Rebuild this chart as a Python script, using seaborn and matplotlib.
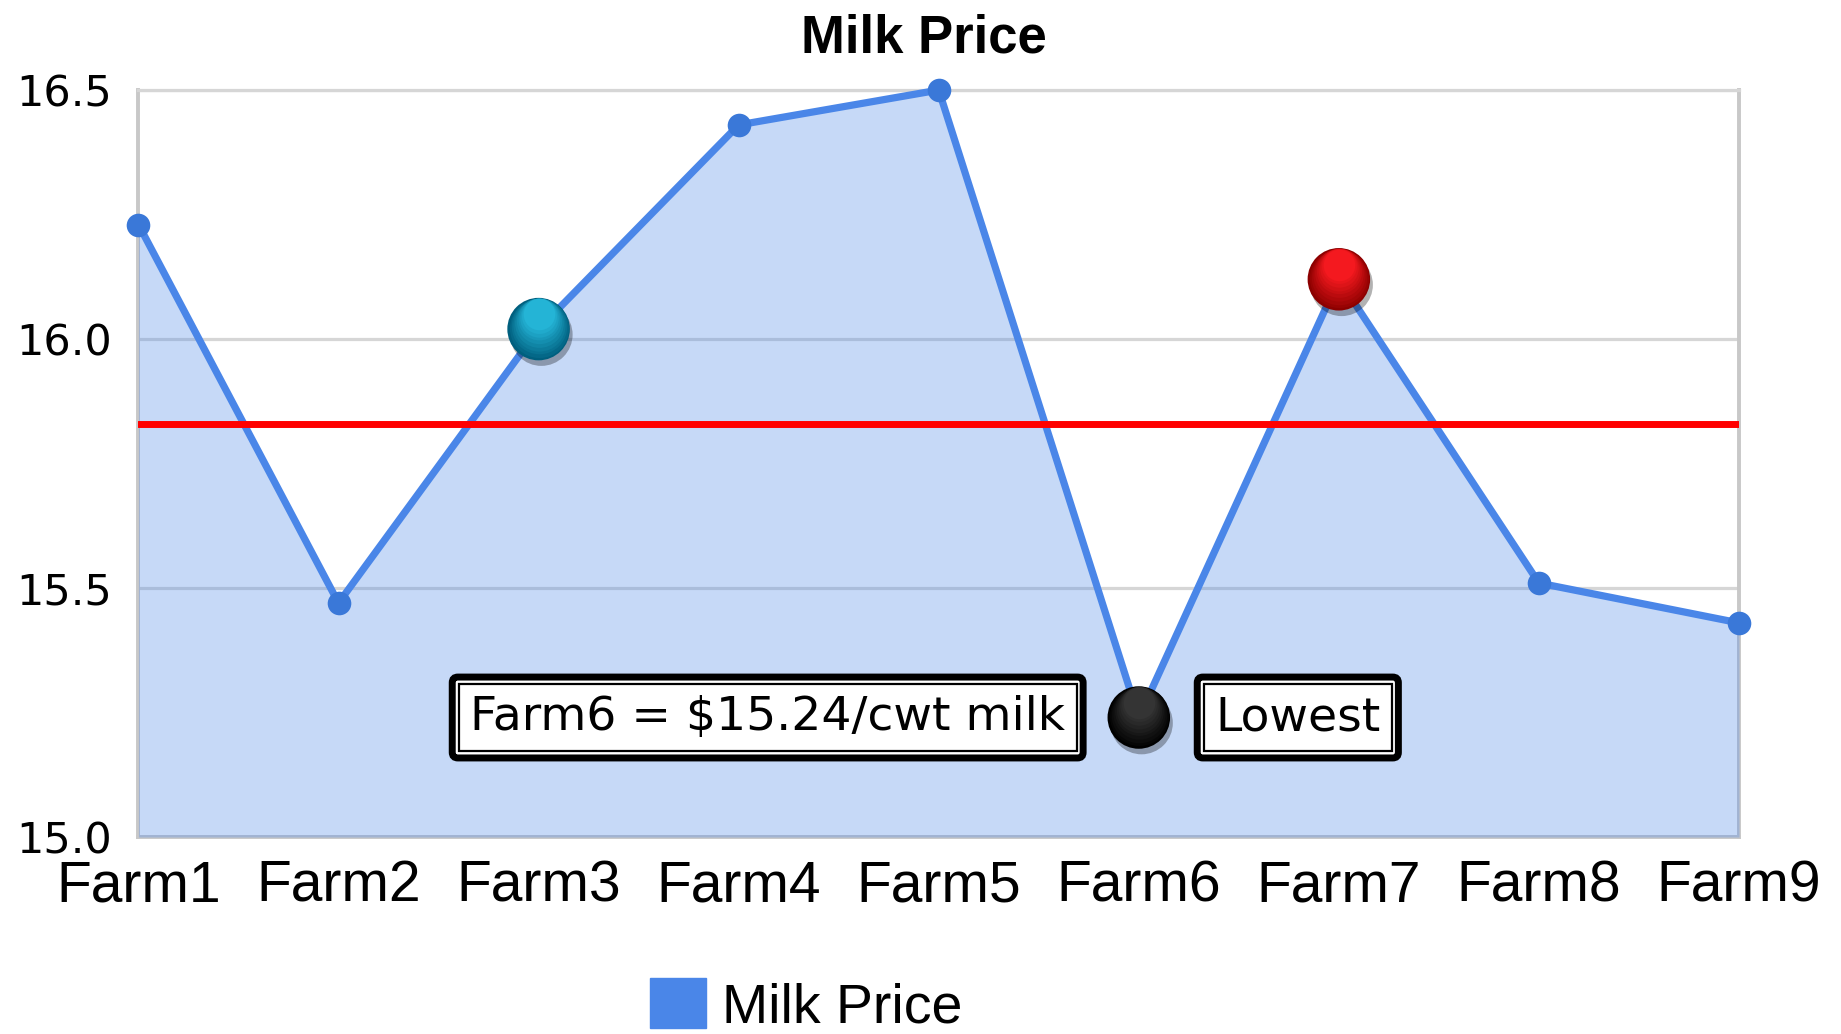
import matplotlib
matplotlib.use('Agg')
import matplotlib.pyplot as plt
import matplotlib.patheffects as pe
import matplotlib.transforms as mtransforms
from matplotlib.colors import to_rgb
from matplotlib.patches import Patch
import seaborn as sns
import pandas as pd
import numpy as np

# data
farms = ['Farm1', 'Farm2', 'Farm3', 'Farm4', 'Farm5', 'Farm6', 'Farm7', 'Farm8', 'Farm9']
prices = [16.23, 15.47, 16.02, 16.43, 16.50, 15.24, 16.12, 15.51, 15.43]
avg_price = 15.83
y_ticks = [15.0, 15.5, 16.0, 16.5]
highlight_farms = ['Farm3', 'Farm7', 'Farm6']
# (bottom colour, top colour) of each glossy ball
highlight_colors = [('#005f7e', '#28bde0'), ('#8c0000', '#ff1c22'), ('#000000', '#3a3a3a')]
low_text = 'Farm6 = $15.24/cwt milk'
low_tag = 'Lowest'

df = pd.DataFrame({'farm': farms, 'price': prices})
df['pos'] = range(len(df))

sns.set_style('white')
plt.rcParams['font.family'] = ['Liberation Sans', 'DejaVu Sans']
plt.rcParams['text.color'] = 'black'

blue = '#4a86e8'

fig = plt.figure(figsize=(18.41, 10.34), dpi=100)
ax = fig.add_axes([0.0752, 0.1905, 0.8694, 0.7224])

# area + line
ax.fill_between(df['pos'], df['price'], y_ticks[0], color=blue, alpha=0.31, lw=0, zorder=1)
sns.lineplot(data=df, x='pos', y='price', color=blue, lw=5.2, marker='o', markersize=17,
             markeredgewidth=0, markerfacecolor='#3a78d8', ax=ax, zorder=3, clip_on=False)

# average line
ax.axhline(avg_price, color='#ff0000', lw=5, zorder=4)

# highlighted points, drawn as stacked circles to get a top-lit gloss
ball = 45
for f, (c0, c1) in zip(highlight_farms, highlight_colors):
    row = df[df['farm'] == f].iloc[0]
    ax.plot(row['pos'], row['price'], 'o', ms=ball, mfc=c0, mec='none', zorder=5,
            path_effects=[pe.SimplePatchShadow(offset=(2, -4), shadow_rgbFace='black', alpha=0.3),
                          pe.Normal()])
    n = 10
    for i in range(1, n):
        t = i / n
        ms = ball * (1 - 0.55 * t)
        col = tuple((1 - t) * a + t * b for a, b in zip(to_rgb(c0), to_rgb(c1)))
        tr = mtransforms.offset_copy(ax.transData, fig=fig, x=0, y=(ball - ms) / 2 - 0.5, units='points')
        ax.plot(row['pos'], row['price'], 'o', ms=ms, mfc=col, mec='none', zorder=5 + t, transform=tr)

# annotation boxes next to the lowest point
low = df.loc[df['price'].idxmin()]
for lw, style in [(5, 'round,pad=0.38,rounding_size=0.12'), (1.6, 'square,pad=0.24')]:
    ax.annotate(low_text, xy=(low['pos'], low['price']), xytext=(-53, 0), textcoords='offset points',
                ha='right', va='center', fontsize=34, family='DejaVu Sans', color='black', zorder=7,
                bbox=dict(boxstyle=style, fc='white', ec='black', lw=lw))
    ax.annotate(low_tag, xy=(low['pos'], low['price']), xytext=(55, 0), textcoords='offset points',
                ha='left', va='center', fontsize=34, family='DejaVu Sans', color='black', zorder=7,
                bbox=dict(boxstyle=style, fc='white', ec='black', lw=lw))

# axes styling
ax.set_xlim(0, len(farms) - 1)
ax.set_ylim(y_ticks[0], y_ticks[-1])
ax.yaxis.grid(True, color='#d6d6d6', lw=2.3)
ax.set_axisbelow(True)
for side in ['left', 'right', 'bottom', 'top']:
    ax.spines[side].set_color('#c8c8c8')
    ax.spines[side].set_linewidth(2.8)
    ax.spines[side].set_zorder(0.6)
ax.spines['top'].set_color('#d6d6d6')
ax.spines['top'].set_linewidth(2.3)

ax.set_xticks(df['pos'], farms, fontsize=41)
ax.set_yticks(y_ticks, [f'{v:.1f}' for v in y_ticks], fontsize=31, family='DejaVu Sans')
ax.tick_params(axis='x', length=7, width=2, color='#d0d0d0', pad=9, direction='out', labelcolor='black')
ax.tick_params(axis='y', length=0, pad=19, labelcolor='black')
ax.set_xlabel('')
ax.set_ylabel('')

fig.text(0.502, 0.9497, 'Milk Price', ha='center', va='baseline', fontsize=38, fontweight='bold')

fig.legend(handles=[Patch(color=blue)], labels=['Milk Price'], loc='center',
           bbox_to_anchor=(0.438, 0.027), frameon=False, fontsize=40,
           handlelength=1.0, handleheight=1.0, handletextpad=0.3)

fig.savefig('out.png', dpi=100)
